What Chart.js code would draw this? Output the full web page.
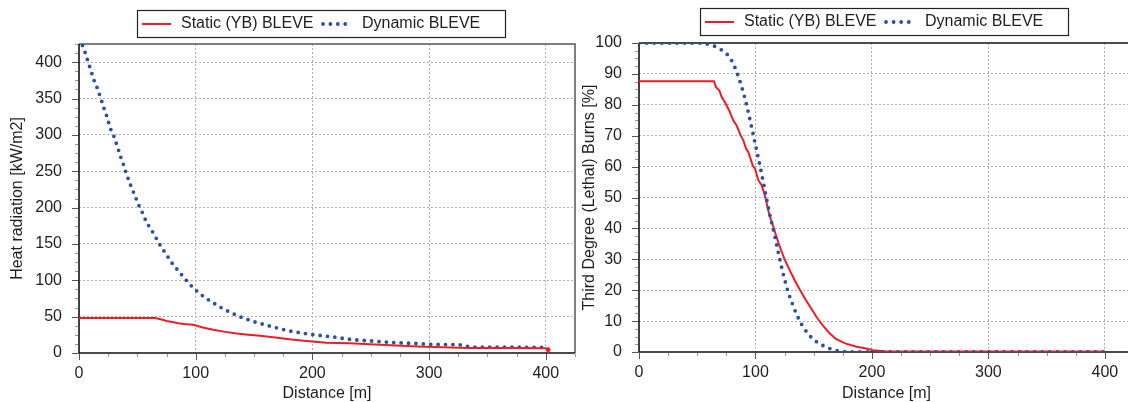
<!DOCTYPE html>
<html><head><meta charset="utf-8">
<script src="https://cdn.jsdelivr.net/npm/chart.js@4.4.1/dist/chart.umd.min.js"></script>
<style>
html,body{margin:0;padding:0;background:#fff;width:1128px;height:402px;overflow:hidden;position:relative}
#c1{position:absolute;left:0;top:0;width:580px;height:402px}
#c2{position:absolute;left:578px;top:0;width:560px;height:402px}
</style></head><body>
<canvas id="c1" width="580" height="402"></canvas>
<canvas id="c2" width="560" height="402"></canvas>
<script>
// ---------- labels ----------
const seriesNames = ['Static (YB) BLEVE', 'Dynamic BLEVE'];
const xTitle = 'Distance [m]';
const yTitleLeft = 'Heat radiation [kW/m2]';
const yTitleRight = 'Third Degree (Lethal) Burns [%]';
const xMajorTicks = [0, 100, 200, 300, 400];
const yLeftMajorTicks = [0, 50, 100, 150, 200, 250, 300, 350, 400];
const yRightMajorTicks = [0, 10, 20, 30, 40, 50, 60, 70, 80, 90, 100];

// ---------- left chart: heat radiation ----------
const heatStaticX = [0, 65, 70, 75, 80, 85, 90, 98, 106, 115, 124, 135, 145, 155, 170, 182, 195, 212, 232, 258, 290, 333, 370, 400, 402];
const heatStaticY = [48, 48, 46.5, 44, 42.5, 41, 40, 38.8, 35, 32, 29.4, 26.7, 25, 23.6, 21, 18.5, 16.5, 14.2, 13.3, 11.2, 9, 7, 6.8, 6.5, 4.5];
const heatDynamicX = [3, 5.3, 7.3, 9.3, 11.3, 13.3, 15.9, 17.9, 19.9, 21.9, 24.2, 25.9, 27.9, 30.8, 32.5, 34.8, 36.5, 38.9, 40.6, 43.1, 45.1, 48, 50, 52.9, 55.5, 58, 61.7, 70, 80, 90, 97, 104, 110, 120, 130, 140, 150, 160, 170, 180, 190, 200, 210, 220, 230, 240, 250, 260, 270, 280, 290, 300, 310, 325, 333, 340, 400];
const heatDynamicY = [423, 413, 403, 393, 383, 373, 363.5, 354, 344, 334, 324, 314, 304.5, 295, 285, 275, 265.6, 256, 245.5, 236.3, 226.3, 217, 207, 198, 188.8, 179, 170.5, 147, 123, 103.5, 91, 81, 74, 64, 55.5, 48.5, 43, 38.5, 34.3, 30.5, 27.7, 25.2, 23.5, 21.6, 19.2, 17.6, 16.6, 15.3, 14.3, 13.5, 13, 12, 11.6, 11.6, 9, 8, 7.8];

// ---------- right chart: lethality ----------
const burnStaticX = [0, 64.4, 66.1, 69, 71, 73.8, 77.5, 81, 83.8, 87.3, 89.6, 91.9, 93.9, 97.6, 99.6, 102.5, 105.3, 107.6, 109.1, 111.6, 113.9, 115.9, 120, 125, 130, 134, 138, 143, 148, 153, 158, 163, 169, 177, 186, 195, 201, 213, 400];
const burnStaticY = [87.6, 87.6, 85.7, 84.6, 82.5, 80.8, 78.1, 74.9, 73.3, 70.1, 68.5, 65.8, 64.7, 60.4, 59.3, 55.6, 54, 51.3, 49.1, 44.8, 42.2, 39.8, 35, 30, 26, 23, 20.2, 17, 14, 11, 8.5, 6.3, 4.2, 2.8, 1.8, 1.1, 0.6, 0.2, 0.2];
const burnDynamicX = [0, 54, 60, 66, 71, 76, 80, 84, 88, 92, 96, 100, 104, 108, 112, 116, 120, 124, 128, 132, 136, 140, 145, 150, 156, 162, 168, 175, 181, 400];
const burnDynamicY = [100, 100, 99.5, 98.8, 97.7, 96.2, 94, 90.5, 86, 80.5, 74, 67, 60, 52.5, 45, 38.5, 31.5, 25, 19.5, 15.3, 11.6, 8.7, 6, 4, 2.5, 1.4, 0.6, 0.2, 0, 0];

const RED = '#ee1c25';
const BLUE = '#2b50a3';
const TXT = '#1e1e1e';
const FONT = "'Liberation Sans', Arial, sans-serif";

Chart.defaults.font.family = FONT;
Chart.defaults.font.size = 16;
Chart.defaults.color = TXT;

const pts = (xs, ys) => xs.map((x, i) => ({x, y: ys[i]}));
const isMajor = (v, arr) => arr.some(m => Math.abs(m - v) < 1e-6);

const deco = {
  id: 'deco',
  beforeDatasetsDraw(chart, args, o) {
    const {ctx, chartArea: a} = chart;
    ctx.save();
    ctx.lineCap = 'butt';
    ctx.strokeStyle = o.frameColor; ctx.lineWidth = 1.5;
    ctx.beginPath(); ctx.moveTo(a.left, a.top); ctx.lineTo(a.right, a.top); ctx.lineTo(a.right, a.bottom); ctx.stroke();
    ctx.strokeStyle = '#111'; ctx.lineWidth = 1.6;
    ctx.beginPath(); ctx.moveTo(a.left, a.top); ctx.lineTo(a.left, a.bottom); ctx.lineTo(a.right, a.bottom); ctx.stroke();
    ctx.restore();
  },
  afterDraw(chart, args, o) {
    const {ctx, chartArea: a, scales: {x, y}} = chart;
    ctx.save();
    ctx.lineWidth = 1;
    x.ticks.forEach(t => {
      const p = Math.round(x.getPixelForValue(t.value)) + 0.5;
      const m = isMajor(t.value, o.xMajor);
      ctx.strokeStyle = m ? '#555' : '#999';
      ctx.beginPath(); ctx.moveTo(p, a.bottom + 1); ctx.lineTo(p, a.bottom + (m ? 7 : 4)); ctx.stroke();
    });
    y.ticks.forEach(t => {
      const p = Math.round(y.getPixelForValue(t.value)) + 0.5;
      const m = isMajor(t.value, o.yMajor);
      ctx.strokeStyle = m ? '#555' : '#999';
      ctx.beginPath(); ctx.moveTo(a.left - 1, p); ctx.lineTo(a.left - (m ? 7 : 4), p); ctx.stroke();
    });
    // legend
    const L = o.legend;
    ctx.fillStyle = '#fff'; ctx.fillRect(L.x, L.y, L.w, L.h);
    ctx.strokeStyle = '#222'; ctx.lineWidth = 1.2; ctx.strokeRect(L.x + 0.5, L.y + 0.5, L.w, L.h);
    const cy = L.y + L.h / 2 + 0.5;
    const ds = chart.data.datasets;
    const item = (d, x0, x1, tx) => {
      ctx.save();
      ctx.strokeStyle = d.borderColor; ctx.lineWidth = d.borderWidth;
      ctx.setLineDash(d.borderDash || []); ctx.lineCap = d.borderCapStyle || 'butt';
      ctx.beginPath(); ctx.moveTo(x0, cy); ctx.lineTo(x1, cy); ctx.stroke();
      ctx.restore();
      ctx.fillStyle = TXT; ctx.font = '16px ' + FONT; ctx.textBaseline = 'middle'; ctx.textAlign = 'left';
      ctx.fillText(d.label, tx, cy);
    };
    item(ds[0], L.x + 5, L.x + 34, L.x + 44);
    item(ds[1], L.x + 186, L.x + 210, L.x + 225);
    ctx.restore();
  }
};

function makeScales(yMax, yStep, yMajor, yTitle, yTitlePad, xH) {
  return {
    x: {
      type: 'linear', min: 0, max: 425,
      ticks: {stepSize: 25, autoSkip: false, maxRotation: 0, padding: 4,
        callback: v => isMajor(v, xMajorTicks) ? String(v) : ''},
      grid: {drawTicks: true, tickLength: 7, tickColor: 'rgba(0,0,0,0)', lineWidth: 1,
        color: c => (c.tick && c.tick.value > 0 && isMajor(c.tick.value, xMajorTicks)) ? '#b0b0b0' : 'rgba(0,0,0,0)'},
      border: {display: false, dash: [2, 2]},
      title: {display: true, text: xTitle, padding: {top: 0, bottom: -1}, font: {size: 16}},
      afterFit: s => { s.height = xH; }
    },
    y: {
      type: 'linear', min: 0, max: yMax,
      ticks: {stepSize: yStep, autoSkip: false, padding: 10,
        callback: v => isMajor(v, yMajor) ? String(v) : ''},
      grid: {drawTicks: true, tickLength: 7, tickColor: 'rgba(0,0,0,0)', lineWidth: 1,
        color: c => (c.tick && c.tick.value > 0 && c.tick.value < yMax && isMajor(c.tick.value, yMajor)) ? '#b0b0b0' : 'rgba(0,0,0,0)'},
      border: {display: false, dash: [2, 2]},
      title: {display: true, text: yTitle, padding: {top: yTitlePad, bottom: 0}, font: {size: 16}},
    }
  };
}

// Left chart
const leftScales = makeScales(425, 12.5, yLeftMajorTicks, yTitleLeft, 8, 49);
leftScales.y.afterFit = s => { s.width = 79; };
new Chart(document.getElementById('c1'), {
  type: 'line',
  data: {datasets: [
    {label: seriesNames[0], data: pts(heatStaticX, heatStaticY), borderColor: RED, backgroundColor: RED, borderWidth: 2,
      pointRadius: c => c.dataIndex === heatStaticX.length - 1 ? 2.4 : 0, pointBorderWidth: 0, tension: 0, order: 0},
    {label: seriesNames[1], data: pts(heatDynamicX, heatDynamicY), borderColor: BLUE, borderWidth: 3.8,
      borderDash: [0, 7.4], borderCapStyle: 'round', borderJoinStyle: 'round', pointRadius: 0, tension: 0, order: 1}
  ]},
  options: {
    responsive: false, animation: false, devicePixelRatio: 1,
    layout: {padding: {top: 44, right: 5, left: 0, bottom: 0}},
    plugins: {legend: {display: false}, tooltip: {enabled: false},
      deco: {frameColor: '#555', xMajor: xMajorTicks, yMajor: yLeftMajorTicks, legend: {x: 137, y: 10, w: 368, h: 27}}},
    scales: leftScales
  },
  plugins: [deco]
});

// Right chart
const rightScales = makeScales(100, 2.5, yRightMajorTicks, yTitleRight, 2, 50);
rightScales.y.afterFit = s => { s.width = 61; };
new Chart(document.getElementById('c2'), {
  type: 'line',
  data: {datasets: [
    {label: seriesNames[0], data: pts(burnStaticX, burnStaticY), borderColor: RED, borderWidth: 2,
      pointRadius: 0, tension: 0, order: 1},
    {label: seriesNames[1], data: pts(burnDynamicX, burnDynamicY), borderColor: BLUE, borderWidth: 3.8,
      borderDash: [0, 7.6], borderCapStyle: 'round', borderJoinStyle: 'round', pointRadius: 0,
      cubicInterpolationMode: 'monotone', order: 0}
  ]},
  options: {
    responsive: false, animation: false, devicePixelRatio: 1,
    layout: {padding: {top: 43, right: 4, left: 0, bottom: 0}},
    plugins: {legend: {display: false}, tooltip: {enabled: false},
      deco: {frameColor: '#111', xMajor: xMajorTicks, yMajor: yRightMajorTicks, legend: {x: 122, y: 8, w: 368, h: 27}}},
    scales: rightScales
  },
  plugins: [deco]
});
</script>
</body></html>
